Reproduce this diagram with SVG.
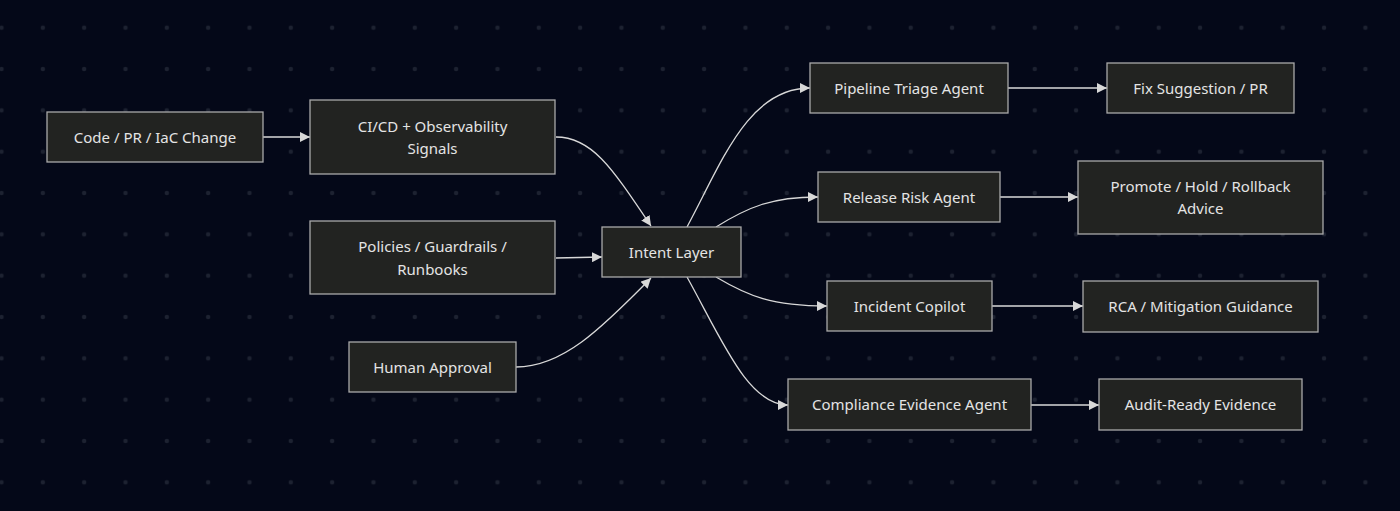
<svg xmlns="http://www.w3.org/2000/svg" width="1400" height="511" viewBox="0 0 1400 511">
<defs>
<pattern id="dots" x="1.5" y="27.7" width="41.33" height="41.33" patternUnits="userSpaceOnUse">
<circle cx="0" cy="0" r="2.2" fill="#1d2231"/><circle cx="41.33" cy="0" r="2.2" fill="#1d2231"/><circle cx="0" cy="41.33" r="2.2" fill="#1d2231"/><circle cx="41.33" cy="41.33" r="2.2" fill="#1d2231"/>
</pattern>
<marker id="arr" viewBox="0 0 10 10" refX="10" refY="5" markerWidth="10" markerHeight="10" markerUnits="userSpaceOnUse" orient="auto">
<path d="M0,0 L10,5 L0,10 z" fill="#d8d8d8"/>
</marker>
<style>
.n rect{fill:#222321;stroke:#a9a9a9;stroke-width:1.3}
.n text{fill:#e4e4e4;font-family:"Noto Sans","DejaVu Sans",sans-serif;font-size:15px;text-anchor:middle;dominant-baseline:central}
.e path{fill:none;stroke:#d8d8d8;stroke-width:1.3;marker-end:url(#arr)}
</style>
</defs>
<rect width="1400" height="511" fill="#040818"/>
<rect width="1400" height="511" fill="url(#dots)"/>
<g id="edges" class="e">
<path d="M263,137 L310,137"/>
<path d="M556,137 C592,137 612,168 651,226"/>
<path d="M556,258 L602,257"/>
<path d="M516,367 C562,367 600,330 651,278"/>
<path d="M687,227 C722,162 748,88 810,88"/>
<path d="M716,227 C748,207 772,197 818,197"/>
<path d="M716,277 C748,296 772,306 827,306"/>
<path d="M687,277 C722,340 748,405 788,405"/>
<path d="M1008,88 L1107,88"/>
<path d="M1000,197 L1078,197"/>
<path d="M992,306 L1083,306"/>
<path d="M1031,405 L1099,405"/>
</g>
<g id="n-code" class="n"><rect x="47" y="112" width="216" height="50"/><text x="155" y="136.5">Code / PR / IaC Change</text></g>
<g id="n-cicd" class="n"><rect x="310" y="100" width="245" height="74"/><text x="432.5" y="125.5">CI/CD + Observability</text><text x="432.5" y="147.5">Signals</text></g>
<g id="n-policies" class="n"><rect x="310" y="221" width="245" height="73"/><text x="432.5" y="245.5">Policies / Guardrails /</text><text x="432.5" y="268.5">Runbooks</text></g>
<g id="n-human" class="n"><rect x="349" y="342" width="167" height="50"/><text x="432.5" y="366.5">Human Approval</text></g>
<g id="n-intent" class="n"><rect x="602" y="227" width="139" height="50"/><text x="671.5" y="251.5">Intent Layer</text></g>
<g id="n-pipeline" class="n"><rect x="810" y="63" width="198" height="50"/><text x="909" y="87.5">Pipeline Triage Agent</text></g>
<g id="n-release" class="n"><rect x="818" y="172" width="182" height="50"/><text x="909" y="196.5">Release Risk Agent</text></g>
<g id="n-incident" class="n"><rect x="827" y="281" width="165" height="50"/><text x="909.5" y="305.5">Incident Copilot</text></g>
<g id="n-compliance" class="n"><rect x="788" y="379" width="243" height="51"/><text x="909.5" y="404">Compliance Evidence Agent</text></g>
<g id="n-fix" class="n"><rect x="1107" y="63" width="187" height="50"/><text x="1200.5" y="87.5">Fix Suggestion / PR</text></g>
<g id="n-promote" class="n"><rect x="1078" y="161" width="245" height="73"/><text x="1200.5" y="185.5">Promote / Hold / Rollback</text><text x="1200.5" y="207.5">Advice</text></g>
<g id="n-rca" class="n"><rect x="1083" y="281" width="235" height="51"/><text x="1200.5" y="306">RCA / Mitigation Guidance</text></g>
<g id="n-audit" class="n"><rect x="1099" y="379" width="203" height="51"/><text x="1200.5" y="404">Audit-Ready Evidence</text></g>
</svg>
